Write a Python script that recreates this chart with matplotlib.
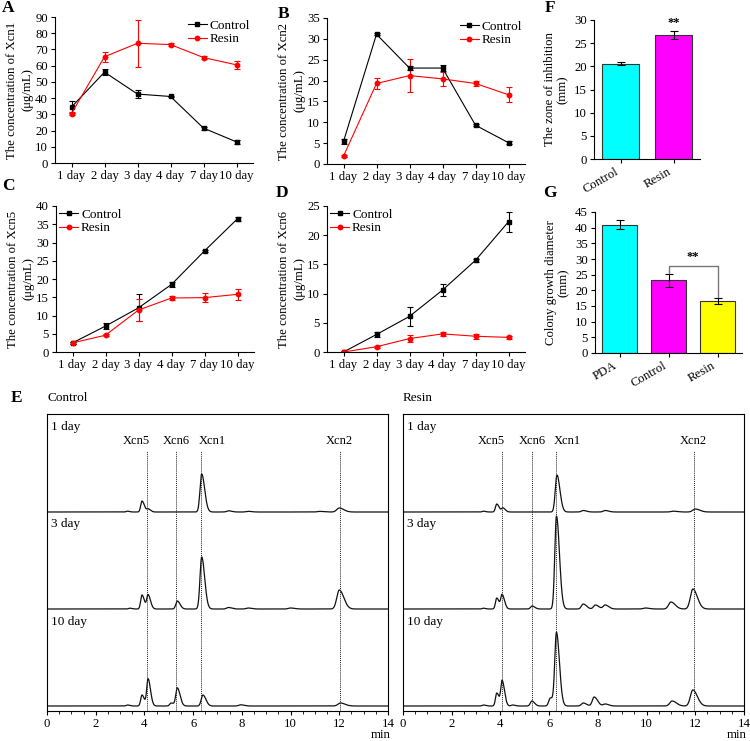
import numpy as np
import matplotlib.pyplot as plt
from matplotlib.lines import Line2D
from matplotlib.ticker import MultipleLocator

plt.rcParams['font.family'] = ['Liberation Serif', 'DejaVu Serif']
plt.rcParams['font.size'] = 9.5
plt.rcParams['axes.linewidth'] = 0.8
plt.rcParams['xtick.major.width'] = 0.8
plt.rcParams['ytick.major.width'] = 0.8
plt.rcParams['xtick.major.size'] = 3
plt.rcParams['ytick.major.size'] = 3
plt.rcParams['xtick.labelsize'] = 9.2
plt.rcParams['ytick.labelsize'] = 9.2

# ---- data: line panels A-D ----
days = ['1 day', '2 day', '3 day', '4 day', '7 day', '10 day']

xcn1_ctrl = [34.5, 56.0, 42.5, 41.0, 21.5, 13.0]
xcn1_ctrl_err = [3.5, 2.0, 2.5, 0.5, 1.0, 1.2]
xcn1_resin = [30.5, 65.5, 73.8, 73.0, 65.0, 60.5]
xcn1_resin_err = [1.0, 3.0, 14.5, 0.8, 0.8, 2.3]

xcn2_ctrl = [5.4, 31.1, 23.0, 23.0, 9.3, 5.1]
xcn2_ctrl_err = [0.6, 0.2, 0.5, 0.8, 0.3, 0.3]
xcn2_resin = [1.9, 19.3, 21.2, 20.4, 19.3, 16.6]
xcn2_resin_err = [0.2, 1.3, 4.0, 1.6, 0.7, 1.8]

xcn5_ctrl = [2.5, 7.1, 12.1, 18.5, 27.7, 36.5]
xcn5_ctrl_err = [0.3, 0.8, 3.7, 0.8, 0.3, 0.6]
xcn5_resin = [2.5, 4.6, 11.5, 14.8, 14.9, 15.8]
xcn5_resin_err = [0.3, 0.3, 2.9, 0.5, 1.2, 1.5]

xcn6_ctrl = [0.0, 3.0, 6.1, 10.6, 15.7, 22.3]
xcn6_ctrl_err = [0.1, 0.4, 1.6, 1.0, 0.3, 1.7]
xcn6_resin = [0.0, 0.9, 2.3, 3.1, 2.7, 2.5]
xcn6_resin_err = [0.05, 0.15, 0.6, 0.3, 0.4, 0.2]

# ---- data: bar panels F, G ----
f_groups = ['Control', 'Resin']
f_values = [20.6, 26.8]
f_err = [0.3, 0.8]

g_groups = ['PDA', 'Control', 'Resin']
g_values = [41.0, 23.2, 16.5]
g_err = [1.3, 2.0, 1.0]

bar_colors = ['#00FFFF', '#FF00FF', '#FFFF00']

# ---- data: chromatograms (retention time, relative height) ----
ctrl_1d_rt = [3.3, 3.9, 4.15, 6.35, 7.45, 8.25, 11.2, 12.0]
ctrl_1d_h = [0.8, 11, 3, 38, 1.2, 0.7, 0.6, 4]
ctrl_3d_rt = [3.4, 3.9, 4.15, 5.35, 6.35, 7.45, 8.25, 10.0, 12.0]
ctrl_3d_h = [0.8, 14, 14, 8, 52, 1.5, 1.0, 1.0, 19]
ctrl_10d_rt = [3.3, 3.9, 4.15, 5.1, 5.35, 6.4, 7.95, 12.05]
ctrl_10d_h = [1.0, 11, 27, 3, 18, 11, 1.2, 3]

resin_1d_rt = [3.3, 3.85, 4.1, 6.32, 7.4, 8.3, 11.1, 12.0]
resin_1d_h = [0.8, 8, 4, 37, 1.5, 1.5, 0.8, 3]
resin_3d_rt = [3.3, 3.85, 4.07, 5.3, 6.3, 7.4, 7.9, 8.3, 9.95, 11.0, 11.9]
resin_3d_h = [0.8, 11, 14, 3, 93, 5, 4, 4, 1, 7, 20]
resin_10d_rt = [3.3, 3.85, 4.07, 4.5, 5.29, 6.05, 6.3, 7.4, 7.85, 8.3, 11.05, 11.9]
resin_10d_h = [1.0, 13, 25, 1, 5, 8, 73, 3, 9, 2, 5, 16]

ctrl_marks = [4.10, 5.30, 6.34, 12.01]
resin_marks = [4.08, 5.29, 6.30, 11.93]
mark_names = ['Xcn5', 'Xcn6', 'Xcn1', 'Xcn2']
trace_labels = ['1 day', '3 day', '10 day']

W, H = 750, 741
fig = plt.figure(figsize=(W / 100, H / 100), dpi=100)


def add_ax(l, t, r, b):
    return fig.add_axes([l / W, 1 - b / H, (r - l) / W, (b - t) / H])


def line_panel(ax, ctrl, ctrl_err, resin, resin_err, ymax, label, loc):
    x = np.arange(len(days))
    kw = dict(ms=3.2, lw=0.8, elinewidth=0.8, capsize=2, capthick=0.8)
    ax.errorbar(x, ctrl, yerr=ctrl_err, color='black', marker='s', **kw)
    ax.errorbar(x, resin, yerr=resin_err, color='red', marker='o', **kw)
    ax.set_xlim(-0.5, 5.5)
    ax.set_ylim(0, ymax)
    ax.set_xticks(x)
    ax.set_xticklabels(days)
    ax.yaxis.set_major_locator(MultipleLocator(5 if ymax < 50 else 10))
    ax.spines[['top', 'right']].set_visible(False)
    ax.set_ylabel(label, linespacing=1.45, labelpad=1, fontsize=9.2)
    ax.tick_params(pad=2)
    handles = [Line2D([], [], color='black', marker='s', ms=3.2, lw=0.8),
               Line2D([], [], color='red', marker='o', ms=3.2, lw=0.8)]
    ax.legend(handles, ['Control', 'Resin'], loc=loc, frameon=False,
              handlelength=1.5, handletextpad=0.2, labelspacing=0.1,
              borderaxespad=0.1, borderpad=0.1, fontsize=9.5)


axA = add_ax(55, 17, 253, 163)
line_panel(axA, xcn1_ctrl, xcn1_ctrl_err, xcn1_resin, xcn1_resin_err, 90,
           'The concentration of Xcn1\n(μg/mL)', 'upper right')
axB = add_ax(327, 18, 525, 164)
line_panel(axB, xcn2_ctrl, xcn2_ctrl_err, xcn2_resin, xcn2_resin_err, 35,
           'The concentration of Xcn2\n(μg/mL)', 'upper right')
axC = add_ax(56, 206, 254, 352)
line_panel(axC, xcn5_ctrl, xcn5_ctrl_err, xcn5_resin, xcn5_resin_err, 40,
           'The concentration of Xcn5\n(μg/mL)', 'upper left')
axD = add_ax(327, 206, 525, 352)
line_panel(axD, xcn6_ctrl, xcn6_ctrl_err, xcn6_resin, xcn6_resin_err, 25,
           'The concentration of Xcn6\n(μg/mL)', 'upper left')


def bar_panel(ax, groups, values, err, ymax, label):
    x = np.arange(len(groups))
    ax.bar(x, values, width=0.7, color=bar_colors[:len(groups)],
           edgecolor='#333333', linewidth=0.8)
    ax.errorbar(x, values, yerr=err, fmt='none', ecolor='black',
                elinewidth=0.8, capsize=3, capthick=0.8)
    ax.set_xlim(-0.5, len(groups) - 0.5)
    ax.set_ylim(0, ymax)
    ax.yaxis.set_major_locator(MultipleLocator(5))
    ax.set_xticks(x)
    ax.set_xticklabels(groups, rotation=30, ha='right')
    ax.spines[['top', 'right']].set_visible(False)
    ax.set_ylabel(label, linespacing=1.1, labelpad=4, fontsize=9.2)
    ax.tick_params(pad=2)


axF = add_ax(594, 20, 700, 159)
bar_panel(axF, f_groups, f_values, f_err, 30, 'The zone of inhibition\n(mm)')
axF.text(1, f_values[1] + f_err[1] + 0.4, '**', ha='center', va='bottom',
         fontsize=9, fontweight='bold')

axG = add_ax(595, 212, 742, 353)
bar_panel(axG, g_groups, g_values, g_err, 45, 'Colony growth diameter\n(mm)')
yb = 27.8
axG.plot([1, 1, 2, 2], [g_values[1] + g_err[1] + 0.4, yb, yb,
                        g_values[2] + g_err[2] + 0.4],
         color='#777777', lw=1.0)
axG.text(1.5, yb + 1.0, '**', ha='center', va='bottom', fontsize=9,
         fontweight='bold')

# ---- chromatograms ----
t = np.linspace(0, 14, 4000)


def trace(rts, hts):
    y = np.zeros_like(t)
    for rt, h in zip(rts, hts):
        sl = 0.03 + 0.006 * rt
        s = np.where(t < rt, sl, 1.8 * sl)
        y += h * np.exp(-0.5 * ((t - rt) / s) ** 2)
    return y


baselines = [199, 102, 5]
label_y = [284, 187, 89]


def chrom_panel(ax, traces, marks, title):
    for (rts, hts), b in zip(traces, baselines):
        ax.plot(t, b + trace(rts, hts), color='#111111', lw=0.9)
    for m in marks:
        ax.plot([m, m], [0, 260], color='#222222', lw=0.7, ls=(0, (1, 1)))
    offs = [-0.45, 0.0, 0.45, 0.0]
    for m, name, o in zip(marks, mark_names, offs):
        ax.text(m + o, 270, name, ha='center', va='center', fontsize=9)
    for lab, y in zip(trace_labels, label_y):
        ax.text(0.012, y, lab, transform=ax.get_yaxis_transform(),
                ha='left', va='center', fontsize=9.5)
    ax.set_xlim(0, 14)
    ax.set_ylim(0, 297)
    ax.set_yticks([])
    ax.xaxis.set_major_locator(MultipleLocator(2))
    ax.xaxis.set_minor_locator(MultipleLocator(0.5))
    ax.tick_params(axis='x', which='minor', length=2, width=0.6)
    ax.tick_params(axis='x', pad=2)
    ax.annotate('min', xy=(14, 0), xycoords=('data', 'axes fraction'),
                xytext=(-5, -17.3), textcoords='offset points',
                ha='center', va='center', fontsize=9.2)
    ax.text(0, 1.054, title, transform=ax.transAxes, ha='left',
            va='center')


axE1 = add_ax(47, 414, 388, 711)
chrom_panel(axE1, [(ctrl_1d_rt, ctrl_1d_h), (ctrl_3d_rt, ctrl_3d_h),
                   (ctrl_10d_rt, ctrl_10d_h)], ctrl_marks, 'Control')
axE2 = add_ax(403, 414, 744, 711)
chrom_panel(axE2, [(resin_1d_rt, resin_1d_h), (resin_3d_rt, resin_3d_h),
                   (resin_10d_rt, resin_10d_h)], resin_marks, 'Resin')

# ---- panel letters ----
letters = {'A': (8, 8), 'B': (284, 14), 'C': (8, 186), 'D': (282, 193),
           'E': (17, 398), 'F': (550, 8), 'G': (550, 193)}
for k, (px, py) in letters.items():
    fig.text(px / W, 1 - py / H, k, ha='center', va='center',
             fontsize=12.5, fontweight='bold')

fig.savefig('out.png', dpi=100)
